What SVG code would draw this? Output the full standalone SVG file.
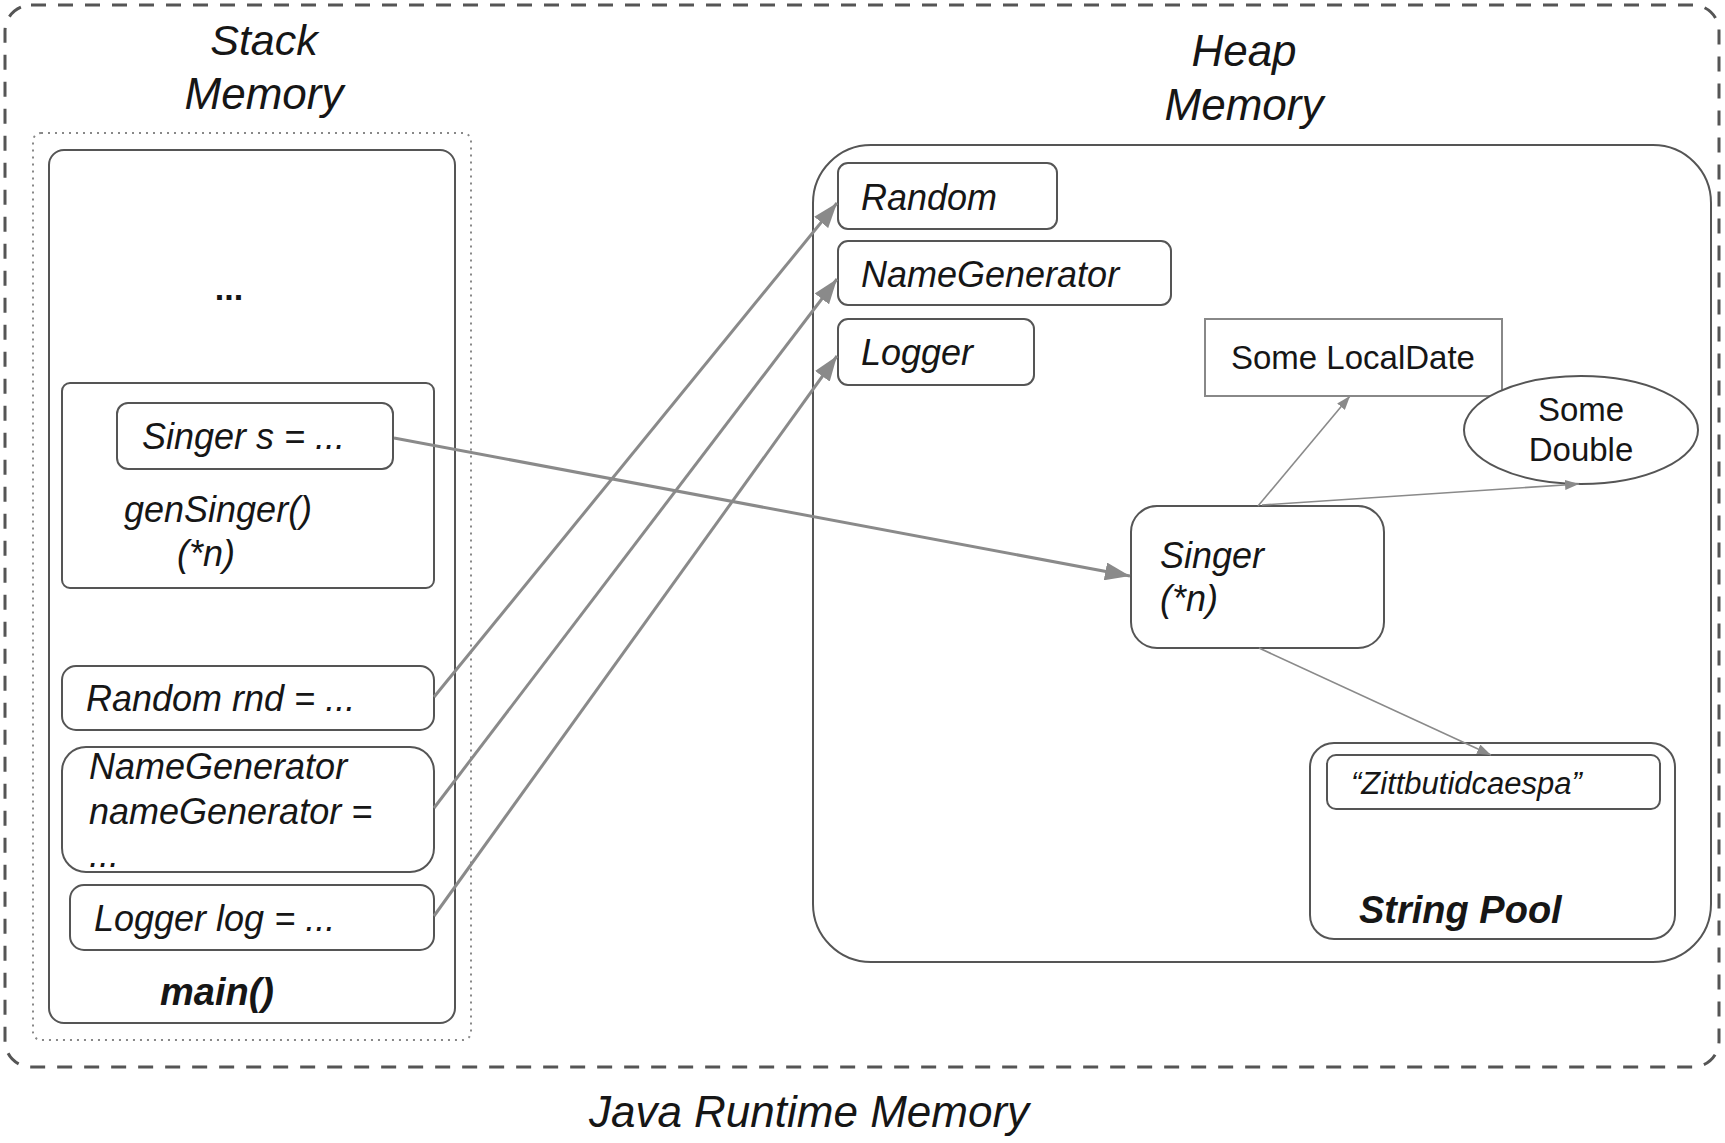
<svg xmlns="http://www.w3.org/2000/svg" width="1725" height="1143" viewBox="0 0 1725 1143">
<style>
  text { font-family: "Liberation Sans", Arial, sans-serif; fill: #161616; }
  .it { font-style: italic; }
  .bi { font-style: italic; font-weight: bold; }
  .box { fill: #fff; stroke: #555; stroke-width: 2; }
  .thick { stroke: #8a8a8a; stroke-width: 3; fill: none; }
  .thin { stroke: #8a8a8a; stroke-width: 1.6; fill: none; }
</style>
<defs>
  <marker id="big" markerUnits="userSpaceOnUse" markerWidth="26" markerHeight="18" refX="25" refY="9" orient="auto">
    <path d="M0,0 L25,9 L0,18 z" fill="#8a8a8a"/>
  </marker>
  <marker id="small" markerUnits="userSpaceOnUse" markerWidth="15" markerHeight="10" refX="14" refY="5" orient="auto">
    <path d="M0,0 L14,5 L0,10 z" fill="#8a8a8a"/>
  </marker>
</defs>
<rect width="1725" height="1143" fill="#fff"/>

<g id="runtime">
  <rect x="5" y="5" width="1714" height="1062" rx="26" fill="none" stroke="#555" stroke-width="3" stroke-dasharray="15 12"/>
  <text class="it" x="809" y="1127" font-size="44" text-anchor="middle">Java Runtime Memory</text>
</g>

<g id="stack">
  <text class="it" x="264" y="55" font-size="43" text-anchor="middle">Stack</text>
  <text class="it" x="264" y="109" font-size="44" text-anchor="middle">Memory</text>
  <rect x="33" y="133" width="438" height="907" rx="8" fill="none" stroke="#888" stroke-width="2" stroke-dasharray="2 5"/>
</g>

<g id="main-frame">
  <rect class="box" x="49" y="150" width="406" height="873" rx="15"/>
  <text x="229" y="300" font-size="34" font-weight="bold" text-anchor="middle">...</text>
  <text class="bi" x="217" y="1005" font-size="38" text-anchor="middle">main()</text>
</g>

<g id="gensinger-frame">
  <rect class="box" x="62" y="383" width="372" height="205" rx="8"/>
  <text class="it" x="124" y="522" font-size="36">genSinger()</text>
  <text class="it" x="177" y="566" font-size="36">(*n)</text>
</g>

<g id="singer-s">
  <rect class="box" x="117" y="403" width="276" height="66" rx="11"/>
  <text class="it" x="142" y="449" font-size="36">Singer s = ...</text>
</g>

<g id="random-rnd">
  <rect class="box" x="62" y="666" width="372" height="64" rx="14"/>
  <text class="it" x="86" y="711" font-size="36">Random rnd = ...</text>
</g>

<g id="namegenerator-var">
  <rect class="box" x="62" y="747" width="372" height="125" rx="24"/>
  <text class="it" x="89" y="779" font-size="36">NameGenerator</text>
  <text class="it" x="89" y="824" font-size="36">nameGenerator =</text>
  <text class="it" x="89" y="867" font-size="36">...</text>
</g>

<g id="logger-log">
  <rect class="box" x="70" y="885" width="364" height="65" rx="14"/>
  <text class="it" x="94" y="931" font-size="36">Logger log = ...</text>
</g>

<g id="heap">
  <text class="it" x="1244" y="66" font-size="44" text-anchor="middle">Heap</text>
  <text class="it" x="1244" y="120" font-size="44" text-anchor="middle">Memory</text>
  <rect x="813" y="145" width="898" height="817" rx="58" fill="none" stroke="#555" stroke-width="2"/>
</g>

<g id="random-obj">
  <rect class="box" x="838" y="163" width="219" height="66" rx="10"/>
  <text class="it" x="861" y="210" font-size="36">Random</text>
</g>

<g id="namegenerator-obj">
  <rect class="box" x="838" y="241" width="333" height="64" rx="10"/>
  <text class="it" x="861" y="287" font-size="36">NameGenerator</text>
</g>

<g id="logger-obj">
  <rect class="box" x="838" y="319" width="196" height="66" rx="10"/>
  <text class="it" x="861" y="365" font-size="36">Logger</text>
</g>

<g id="localdate">
  <rect x="1205" y="319" width="297" height="77" fill="#fff" stroke="#888" stroke-width="2"/>
  <text x="1353" y="369" font-size="33" text-anchor="middle">Some LocalDate</text>
</g>

<g id="double">
  <ellipse cx="1581" cy="430" rx="117" ry="54" fill="#fff" stroke="#555" stroke-width="2"/>
  <text x="1581" y="421" font-size="33" text-anchor="middle">Some</text>
  <text x="1581" y="461" font-size="33" text-anchor="middle">Double</text>
</g>

<g id="singer-obj">
  <rect class="box" x="1131" y="506" width="253" height="142" rx="26"/>
  <text class="it" x="1160" y="568" font-size="36">Singer</text>
  <text class="it" x="1160" y="611" font-size="36">(*n)</text>
</g>

<g id="string-pool">
  <rect class="box" x="1310" y="743" width="365" height="196" rx="24"/>
  <text class="bi" x="1359" y="923" font-size="38">String Pool</text>
</g>

<g id="zitt">
  <rect class="box" x="1327" y="755" width="333" height="54" rx="9"/>
  <text class="it" x="1351" y="794" font-size="31">“Zittbutidcaespa”</text>
</g>

<g id="connectors">
  <line class="thick" x1="394" y1="438" x2="1130" y2="576" marker-end="url(#big)"/>
  <line class="thick" x1="434" y1="697" x2="837" y2="203" marker-end="url(#big)"/>
  <line class="thick" x1="434" y1="808" x2="837" y2="279" marker-end="url(#big)"/>
  <line class="thick" x1="434" y1="916" x2="837" y2="356" marker-end="url(#big)"/>
  <line class="thin" x1="1258" y1="506" x2="1350" y2="396" marker-end="url(#small)"/>
  <line class="thin" x1="1262" y1="505" x2="1579" y2="484" marker-end="url(#small)"/>
  <line class="thin" x1="1259" y1="648" x2="1491" y2="755" marker-end="url(#small)"/>
</g>
</svg>
